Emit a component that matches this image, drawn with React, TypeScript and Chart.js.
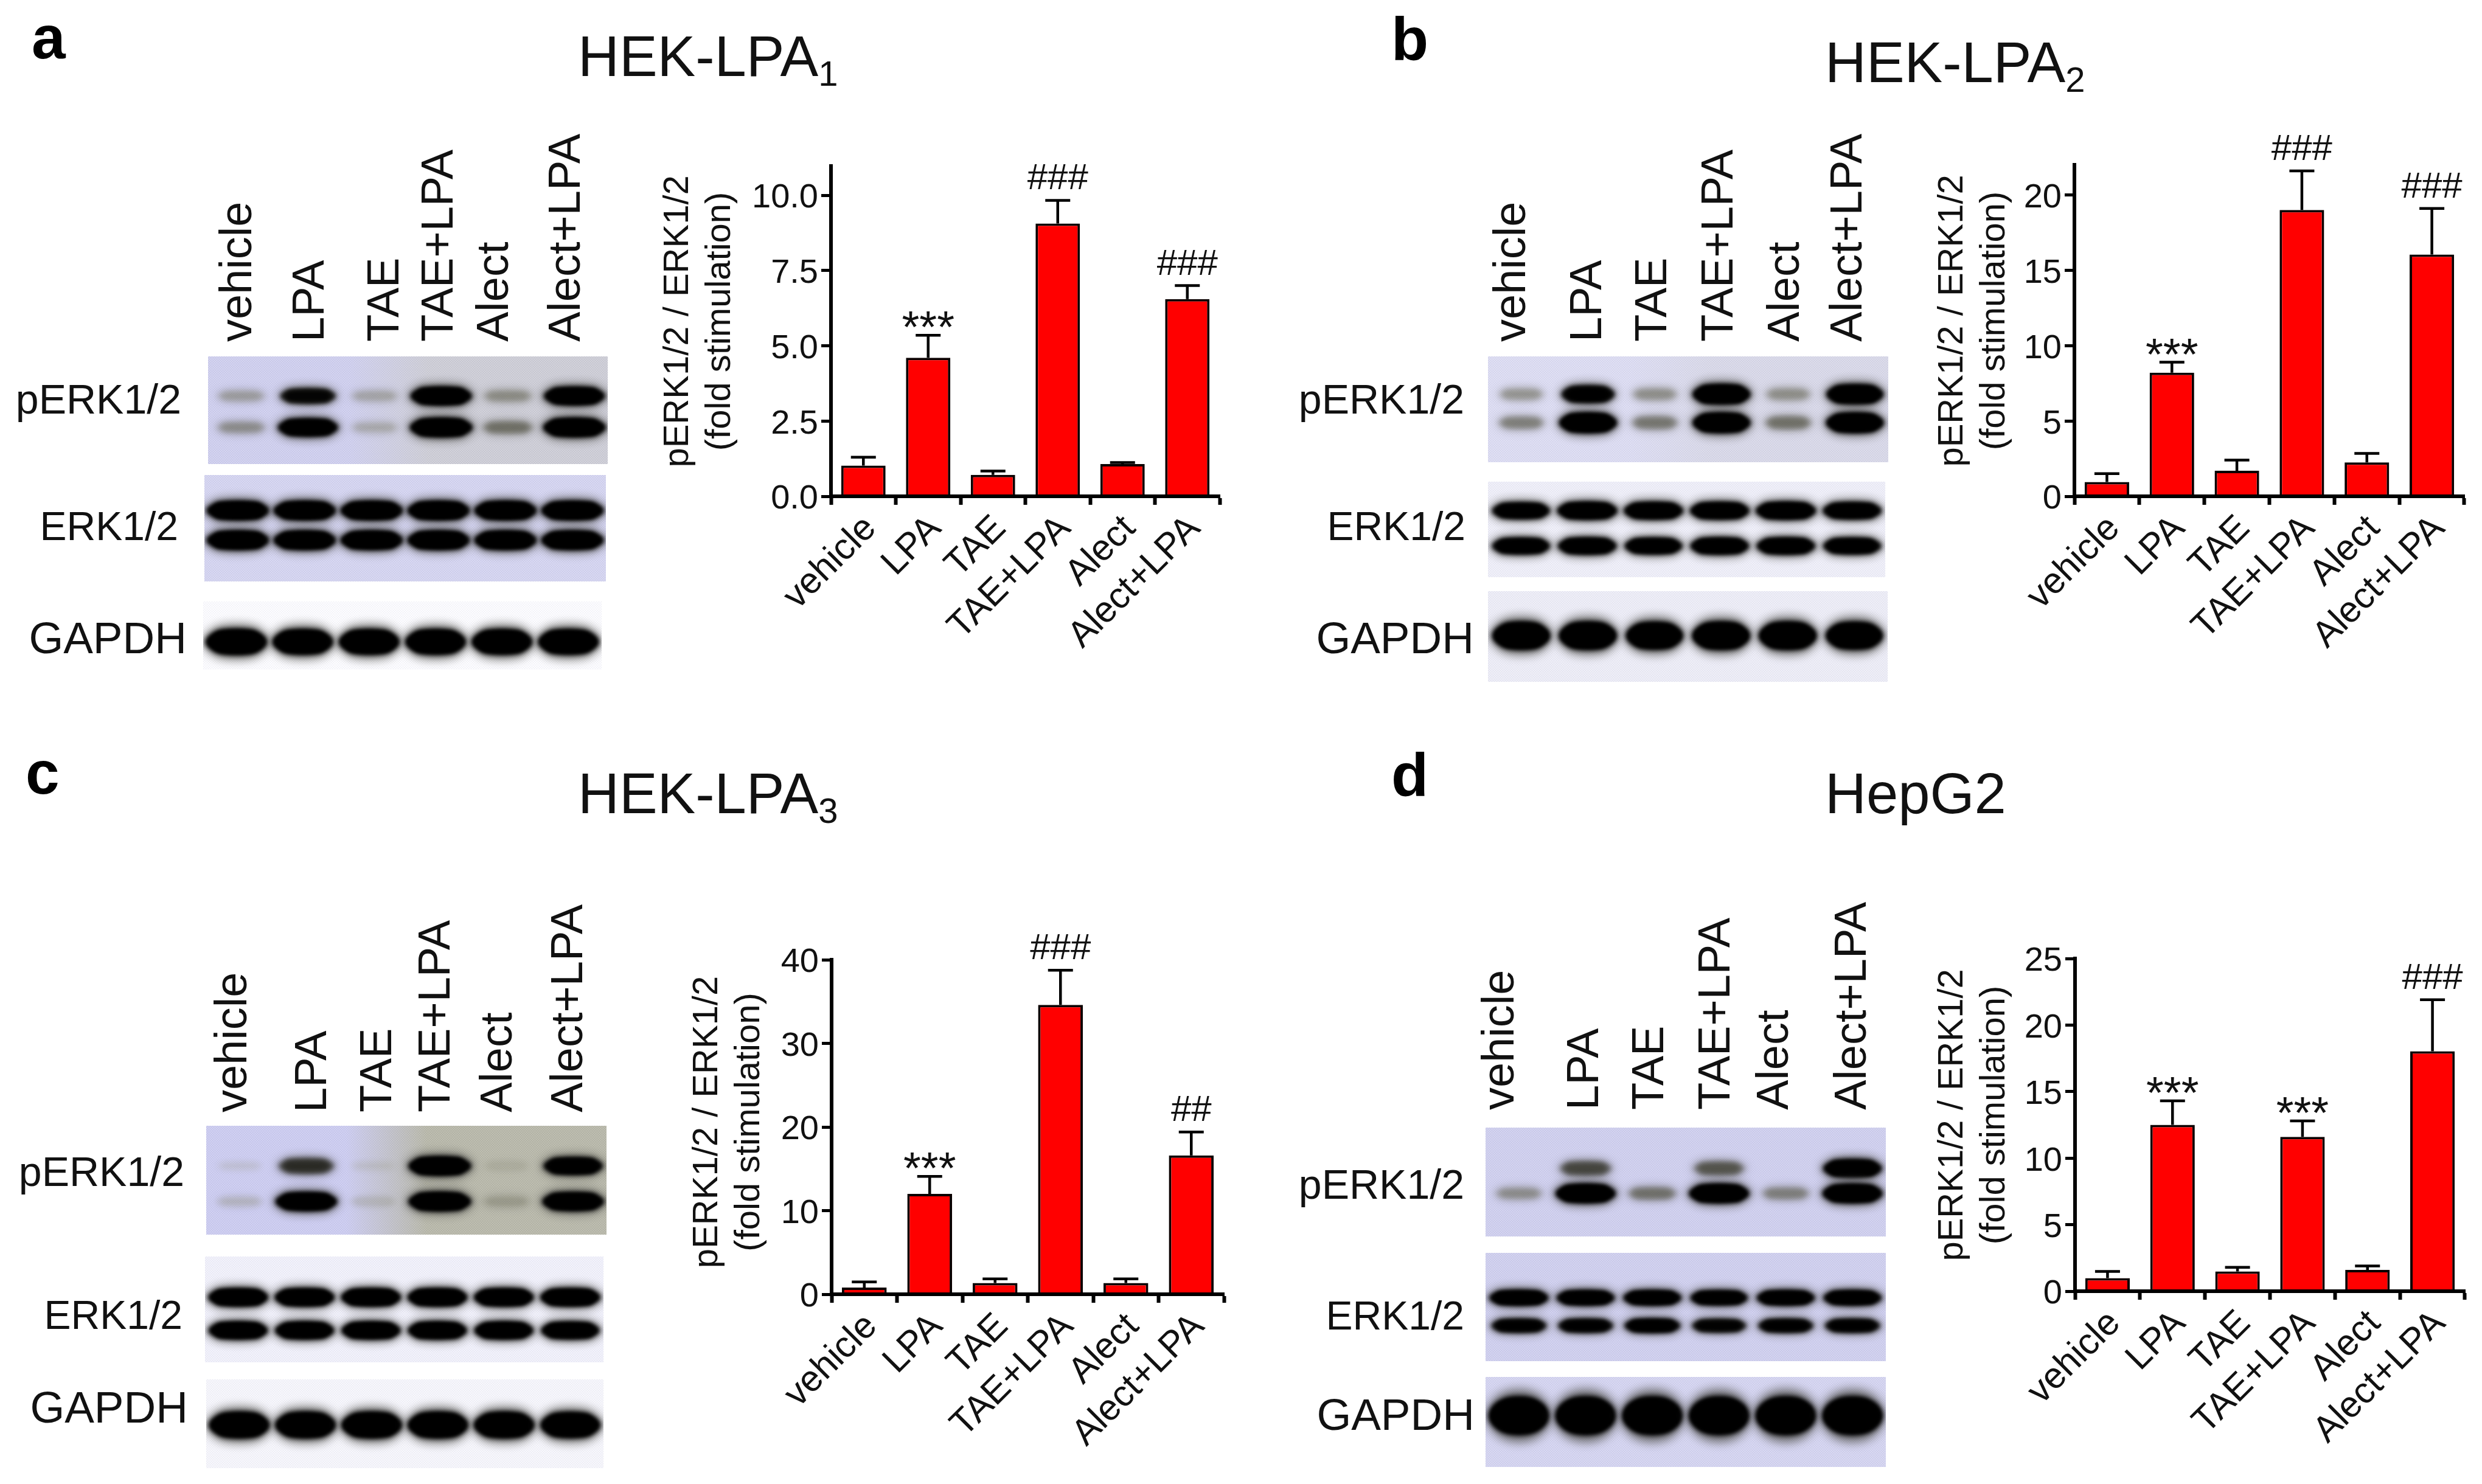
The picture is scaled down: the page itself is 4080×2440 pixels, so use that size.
import React, { useEffect, useRef } from "react";
import { Chart, registerables } from "chart.js";

Chart.register(...registerables);
const FONT = "'Liberation Sans', Arial, sans-serif";
Chart.defaults.font.family = FONT;

// ---------- data ----------
const categories = ["vehicle", "LPA", "TAE", "TAE+LPA", "Alect", "Alect+LPA"];
const rowNames = ["pERK1/2", "ERK1/2", "GAPDH"];
const yTitleLines = ["pERK1/2 / ERK1/2", "(fold stimulation)"];

const valuesA = [1.02, 4.6, 0.71, 9.06, 1.07, 6.55];
const errTopA = [1.3, 5.35, 0.84, 9.83, 1.12, 7.0];
const marksA = ["", "***", "", "###", "", "###"];

const valuesB = [0.95, 8.2, 1.7, 19.0, 2.25, 16.05];
const errTopB = [1.5, 8.9, 2.4, 21.6, 2.85, 19.1];
const marksB = ["", "***", "", "###", "", "###"];

const valuesC = [0.8, 12.0, 1.34, 34.6, 1.34, 16.6];
const errTopC = [1.47, 14.1, 1.83, 38.75, 1.83, 19.4];
const marksC = ["", "***", "", "###", "", "##"];

const valuesD = [0.98, 12.5, 1.48, 11.6, 1.6, 18.03];
const errTopD = [1.48, 14.3, 1.79, 12.8, 1.9, 21.9];
const marksD = ["", "***", "", "***", "", "###"];

// blot band strengths per lane (0 = none, 1 = saturated)
const pUpperA = [0.15, 0.6, 0.12, 0.92, 0.2, 0.9];
const pLowerA = [0.2, 0.85, 0.1, 1, 0.3, 1];
const erkUpperA = [1, 1, 1, 1, 1, 1];
const erkLowerA = [1, 1, 1, 1, 1, 1];
const gapdhA = [1, 0.95, 0.95, 0.95, 0.95, 0.95];

const pUpperB = [0.18, 0.7, 0.2, 1, 0.2, 0.95];
const pLowerB = [0.25, 1, 0.28, 1, 0.3, 1];
const erkUpperB = [0.8, 0.95, 0.9, 0.9, 0.95, 0.85];
const erkLowerB = [0.8, 0.85, 0.8, 0.85, 0.85, 0.8];
const gapdhB = [1, 1, 0.95, 1, 1, 0.95];

const pUpperC = [0.01, 0.55, 0.01, 1, 0.03, 0.8];
const pLowerC = [0.06, 0.95, 0.04, 1, 0.12, 0.95];
const erkUpperC = [1, 1, 1, 1, 1, 1];
const erkLowerC = [0.95, 0.95, 0.95, 0.95, 0.95, 0.9];
const gapdhC = [0.95, 0.95, 0.95, 0.95, 0.95, 0.9];

const pUpperD = [0, 0.45, 0, 0.4, 0, 0.9];
const pLowerD = [0.2, 1, 0.3, 1, 0.25, 1];
const erkUpperD = [0.95, 0.9, 0.9, 0.85, 0.9, 0.9];
const erkLowerD = [0.7, 0.7, 0.75, 0.65, 0.7, 0.7];
const gapdhD = [1, 1, 1, 1, 1, 1];

// ---------- layout ----------
const barPanels = [
  { values: valuesA, err: errTopA, marks: marksA, L: 1080, axisX: 1366, R: 2005, top: 273, y0: 816, max: 10.97, step: 2.5, dec: 1, lead: "  " },
  { values: valuesB, err: errTopB, marks: marksB, L: 3175, axisX: 3410, R: 4051, top: 271, y0: 816, max: 22, step: 5, dec: 0, lead: "  " },
  { values: valuesC, err: errTopC, marks: marksC, L: 1128, axisX: 1367, R: 2012, top: 1578, y0: 2128, max: 40, step: 10, dec: 0, lead: " " },
  { values: valuesD, err: errTopD, marks: marksD, L: 3175, axisX: 3411, R: 4052, top: 1576, y0: 2123, max: 25, step: 5, dec: 0, lead: "  " },
];

const LAV = "#cfcfee";
const strips = [
  // panel a
  { x0: 338, x1: 1003, y0: 582, y1: 767, rows: [650, 704], series: [pUpperA, pLowerA], w: 104, h: 30, bg: [LAV, "#cdcdd6"] },
  { x0: 332, x1: 1000, y0: 777, y1: 960, rows: [838, 889], series: [erkUpperA, erkLowerA], w: 104, h: 30, bg: ["#d4d4f0", "#d4d4f0"] },
  { x0: 330, x1: 993, y0: 985, y1: 1105, rows: [1056], series: [gapdhA], w: 102, h: 42, bg: ["#fbfbfe", "#fbfbfe"] },
  // panel b
  { x0: 2442, x1: 3108, y0: 582, y1: 764, rows: [647, 696], series: [pUpperB, pLowerB], w: 96, h: 32, bg: ["#dcdcf2", "#d8d8e8"] },
  { x0: 2442, x1: 3103, y0: 788, y1: 953, rows: [838, 899], series: [erkUpperB, erkLowerB], w: 102, h: 28, bg: ["#eeeef8", "#eeeef8"] },
  { x0: 2442, x1: 3107, y0: 968, y1: 1125, rows: [1045], series: [gapdhB], w: 96, h: 46, bg: ["#ececf6", "#ececf6"] },
  // panel c
  { x0: 335, x1: 1001, y0: 1847, y1: 2034, rows: [1916, 1977], series: [pUpperC, pLowerC], w: 104, h: 30, bg: ["#ccccf0", "#b8b8aa"] },
  { x0: 333, x1: 996, y0: 2062, y1: 2244, rows: [2132, 2189], series: [erkUpperC, erkLowerC], w: 100, h: 28, bg: ["#f0f0fa", "#f0f0fa"] },
  { x0: 335, x1: 996, y0: 2264, y1: 2418, rows: [2343], series: [gapdhC], w: 102, h: 44, bg: ["#f5f5fb", "#f5f5fb"] },
  // panel d
  { x0: 2438, x1: 3104, y0: 1850, y1: 2037, rows: [1920, 1963], series: [pUpperD, pLowerD], w: 100, h: 30, bg: [LAV, LAV] },
  { x0: 2438, x1: 3104, y0: 2056, y1: 2242, rows: [2133, 2181], series: [erkUpperD, erkLowerD], w: 100, h: 24, bg: [LAV, LAV] },
  { x0: 2438, x1: 3104, y0: 2260, y1: 2416, rows: [2327], series: [gapdhD], w: 100, h: 64, bg: ["#d4d4f0", "#d4d4f0"] },
];

const letters = [
  { t: "a", x: 52, y: 96 },
  { t: "b", x: 2287, y: 99 },
  { t: "c", x: 42, y: 1305 },
  { t: "d", x: 2287, y: 1309 },
];
const titles = [
  { t: "HEK-LPA", sub: "1", x: 950, y: 126 },
  { t: "HEK-LPA", sub: "2", x: 3000, y: 136 },
  { t: "HEK-LPA", sub: "3", x: 950, y: 1338 },
  { t: "HepG2", sub: "", x: 3000, y: 1338 },
];
const laneLabels = [
  { xs: [414, 533, 656, 745, 836, 954], y: 562 },
  { xs: [2508, 2633, 2740, 2849, 2958, 3061], y: 562 },
  { xs: [406, 537, 644, 740, 842, 958], y: 1829 },
  { xs: [2489, 2628, 2735, 2844, 2940, 3068], y: 1825 },
];
const rowFontSizes = [68, 66, 73];
const rowLabels = [
  { rights: [298, 293, 307], ys: [680, 888, 1074] },
  { rights: [2407, 2409, 2423], ys: [680, 888, 1074] },
  { rights: [303, 300, 309], ys: [1950, 2185, 2339] },
  { rights: [2407, 2407, 2424], ys: [1971, 2186, 2351] },
];

// ---------- helpers ----------
const BASE = 0.3465; // baseline offset of a line-height:0 Liberation Sans box, in em
const LANE_FONT = 74;
const TITLE_FONT = 94;
const LETTER_FONT = 100;

function lerp(a: number, b: number, t: number) {
  return a + (b - a) * t;
}

function bandSprite(I: number, w: number, h: number) {
  const c = document.createElement("canvas");
  c.width = Math.ceil(w * 1.25 + 30);
  c.height = Math.ceil(h * 1.6 + 30);
  const ctx = c.getContext("2d")!;
  const cx = c.width / 2;
  const cy = c.height / 2;
  const t = Math.min(1, I / 0.75);
  const rgb = [lerp(150, 0, t), lerp(150, 0, t), lerp(128, 0, t)].map(Math.round).join(",");
  const ww = w * (0.74 + 0.26 * I);
  const hh = h * (0.5 + 0.5 * I);
  const lens = (bw: number, bh: number) => {
    ctx.beginPath();
    ctx.ellipse(cx, cy, bw / 2, bh / 2, 0, 0, Math.PI * 2);
    ctx.fill();
    ctx.beginPath();
    ctx.roundRect(cx - (bw * 0.82) / 2, cy - (bh * 0.88) / 2, bw * 0.82, bh * 0.88, (bh * 0.88) / 2);
    ctx.fill();
  };
  ctx.filter = "blur(8px)";
  ctx.fillStyle = `rgba(90,90,85,${0.55 * Math.min(1, I * 1.2)})`;
  lens(ww * 1.1, hh * 1.4);
  ctx.filter = "blur(5px)";
  ctx.fillStyle = `rgba(${rgb},${Math.min(1, 0.12 + I * 1.3)})`;
  lens(ww, hh);
  if (I > 0.55) {
    ctx.filter = "blur(3px)";
    ctx.fillStyle = `rgba(0,0,0,${I})`;
    lens(ww * 0.95, hh * 0.88);
  }
  return c;
}

function ditherTile() {
  const c = document.createElement("canvas");
  c.width = 4;
  c.height = 4;
  const ctx = c.getContext("2d")!;
  ctx.fillStyle = "rgba(255,255,255,0.22)";
  ctx.fillRect(0, 0, 1, 1);
  ctx.fillRect(2, 2, 1, 1);
  ctx.fillStyle = "rgba(80,80,110,0.10)";
  ctx.fillRect(2, 0, 1, 1);
  ctx.fillRect(0, 2, 1, 1);
  return c;
}

const stripBackground = {
  id: "stripBackground",
  beforeDatasetsDraw(chart: any, _a: any, opts: any) {
    const { ctx, chartArea: ca } = chart;
    const g = ctx.createLinearGradient(ca.left, 0, ca.right, 0);
    g.addColorStop(0, opts.colors[0]);
    g.addColorStop(0.35, opts.colors[0]);
    g.addColorStop(0.55, opts.colors[1]);
    g.addColorStop(1, opts.colors[1]);
    ctx.save();
    ctx.fillStyle = g;
    ctx.fillRect(ca.left, ca.top, ca.right - ca.left, ca.bottom - ca.top);
    ctx.fillStyle = ctx.createPattern(ditherTile(), "repeat");
    ctx.fillRect(ca.left, ca.top, ca.right - ca.left, ca.bottom - ca.top);
    ctx.restore();
  },
};

const errorAndMarks = {
  id: "errorAndMarks",
  afterDatasetsDraw(chart: any, _a: any, opts: any) {
    const { ctx, scales } = chart;
    const meta = chart.getDatasetMeta(0);
    ctx.save();
    ctx.strokeStyle = "#000";
    ctx.fillStyle = "#111";
    ctx.textAlign = "center";
    ctx.textBaseline = "alphabetic";
    meta.data.forEach((bar: any, i: number) => {
      const yV = scales.y.getPixelForValue(opts.values[i]);
      const yE = scales.y.getPixelForValue(opts.err[i]);
      ctx.lineWidth = 4.5;
      ctx.beginPath();
      ctx.moveTo(bar.x, yV);
      ctx.lineTo(bar.x, yE);
      ctx.moveTo(bar.x - 20.5, yE);
      ctx.lineTo(bar.x + 20.5, yE);
      ctx.stroke();
      const m = opts.marks[i];
      if (m) {
        if (m[0] === "*") {
          ctx.font = `74px ${FONT}`;
          ctx.fillText(m, bar.x, yE + 12);
        } else {
          ctx.font = `60px ${FONT}`;
          ctx.fillText(m, bar.x, yE - 18);
        }
      }
    });
    ctx.restore();
  },
};

function makeBarChart(canvas: HTMLCanvasElement, p: any, canvasTop: number) {
  return new Chart(canvas, {
    type: "bar",
    data: {
      labels: categories,
      datasets: [
        {
          data: p.values,
          backgroundColor: "#ff0000",
          borderColor: "#0a0000",
          borderWidth: 4,
          barPercentage: 0.685,
          categoryPercentage: 1,
        },
      ],
    },
    options: {
      responsive: false,
      animation: false,
      events: [],
      layout: { padding: { top: p.top - canvasTop, right: 20, left: 0, bottom: 0 } },
      plugins: {
        legend: { display: false },
        title: { display: false },
        tooltip: { enabled: false },
        errorAndMarks: { values: p.values, err: p.err, marks: p.marks },
      } as any,
      scales: {
        x: {
          grid: { display: true, drawOnChartArea: false, drawTicks: true, tickLength: 14, tickWidth: 6, tickColor: "#000" },
          border: { display: true, color: "#000", width: 6, z: 2 },
          ticks: {
            autoSkip: false,
            minRotation: 45,
            maxRotation: 45,
            padding: 4,
            labelOffset: 12,
            color: "#111",
            font: { size: 60 },
          },
          afterFit: (s: any) => {
            s.height = 280;
            s.paddingLeft = 0;
            s.paddingRight = 0;
          },
        },
        y: {
          min: 0,
          max: p.max,
          grid: { display: true, drawOnChartArea: false, drawTicks: true, tickLength: 16, tickWidth: 5, tickColor: "#000" },
          border: { display: true, color: "#000", width: 6, z: 2 },
          ticks: {
            stepSize: p.step,
            includeBounds: false,
            padding: 5,
            labelOffset: 5,
            color: "#111",
            font: { size: 56 },
            callback: (v: any) => Number(v).toFixed(p.dec),
          },
          title: {
            display: true,
            text: yTitleLines.map((l) => p.lead + l),
            color: "#111",
            font: { size: 58, lineHeight: "69px" },
            padding: 0,
          },
          afterFit: (s: any) => {
            s.width = p.axisX - p.L;
          },
        },
      },
    },
    plugins: [errorAndMarks],
  } as any);
}

function makeStripChart(canvas: HTMLCanvasElement, s: any) {
  const points: any[] = [];
  const sprites: HTMLCanvasElement[] = [];
  s.series.forEach((row: number[], r: number) => {
    row.forEach((I, lane) => {
      if (I <= 0) return;
      points.push({ x: lane, y: s.rows[r] });
      sprites.push(bandSprite(I, s.w, s.h));
    });
  });
  return new Chart(canvas, {
    type: "scatter",
    data: {
      datasets: [
        {
          data: points,
          pointRadius: 1,
          pointBorderWidth: 0,
          pointStyle: (c: any) => sprites[c.dataIndex],
        },
      ],
    },
    options: {
      responsive: false,
      animation: false,
      events: [],
      layout: { padding: 0 },
      plugins: {
        legend: { display: false },
        tooltip: { enabled: false },
        stripBackground: { colors: s.bg },
      } as any,
      scales: {
        x: { type: "linear", display: false, min: -0.5, max: 5.5 },
        y: { type: "linear", display: false, min: s.y0, max: s.y1, reverse: true },
      },
    },
    plugins: [stripBackground],
  } as any);
}

function BarCanvas({ p }: { p: any }) {
  const ref = useRef<HTMLCanvasElement>(null);
  const canvasTop = p.top - 90;
  const width = p.R + 20 - p.L;
  const height = p.y0 + 280 - canvasTop;
  useEffect(() => {
    const c = makeBarChart(ref.current!, p, canvasTop);
    return () => c.destroy();
  }, []);
  return (
    <canvas
      ref={ref}
      width={width}
      height={height}
      style={{ position: "absolute", left: p.L, top: canvasTop, width, height }}
    />
  );
}

function StripCanvas({ s }: { s: any }) {
  const ref = useRef<HTMLCanvasElement>(null);
  const width = s.x1 - s.x0;
  const height = s.y1 - s.y0;
  useEffect(() => {
    const c = makeStripChart(ref.current!, s);
    return () => c.destroy();
  }, []);
  return (
    <canvas
      ref={ref}
      width={width}
      height={height}
      style={{ position: "absolute", left: s.x0, top: s.y0, width, height }}
    />
  );
}

const textBase: React.CSSProperties = {
  position: "absolute",
  lineHeight: 0,
  whiteSpace: "nowrap",
  color: "#111",
  fontFamily: FONT,
};

function App() {
  return (
    <div style={{ position: "absolute", left: 0, top: 0, width: 4080, height: 2440, background: "#fff", overflow: "hidden" }}>
      {strips.map((s, i) => (
        <StripCanvas key={i} s={s} />
      ))}
      {barPanels.map((p, i) => (
        <BarCanvas key={i} p={p} />
      ))}
      {letters.map((l) => (
        <div key={l.t} style={{ ...textBase, left: l.x, top: l.y - BASE * LETTER_FONT, fontSize: LETTER_FONT, fontWeight: 700, color: "#000" }}>
          {l.t}
        </div>
      ))}
      {titles.map((t, i) => (
        <div key={i} style={{ ...textBase, left: t.x, top: t.y - BASE * TITLE_FONT, fontSize: TITLE_FONT }}>
          {t.t}
          {t.sub ? <span style={{ fontSize: 58, position: "relative", top: 16 }}>{t.sub}</span> : null}
        </div>
      ))}
      {laneLabels.map((g, i) =>
        g.xs.map((x, j) => (
          <div
            key={`${i}-${j}`}
            style={{
              ...textBase,
              left: x - BASE * LANE_FONT,
              top: g.y,
              fontSize: LANE_FONT,
              transform: "rotate(-90deg)",
              transformOrigin: "0px 0px",
            }}
          >
            {categories[j]}
          </div>
        ))
      )}
      {rowLabels.map((g, i) =>
        rowNames.map((n, j) => (
          <div
            key={`${i}-${j}`}
            style={{ ...textBase, right: 4080 - g.rights[j], top: g.ys[j] - BASE * rowFontSizes[j], fontSize: rowFontSizes[j] }}
          >
            {n}
          </div>
        ))
      )}
    </div>
  );
}

export default App;
